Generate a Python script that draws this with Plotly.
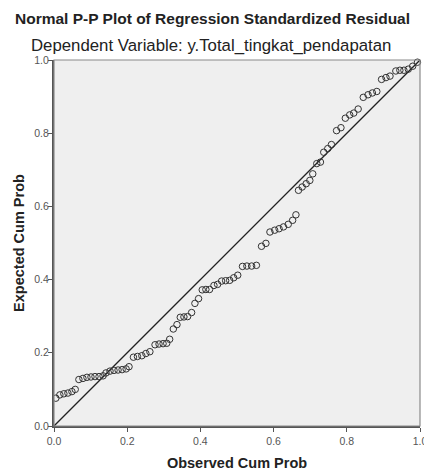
import plotly.graph_objects as go

observed = [0.005, 0.016, 0.027, 0.038, 0.049, 0.058,
            0.068, 0.079, 0.090, 0.101, 0.112, 0.123, 0.134,
            0.142, 0.153, 0.164, 0.175, 0.186, 0.197, 0.205,
            0.217, 0.228, 0.240, 0.251, 0.262,
            0.276, 0.287, 0.298, 0.308, 0.316,
            0.326, 0.336, 0.345, 0.355, 0.365, 0.376, 0.385, 0.395,
            0.405, 0.415, 0.425, 0.437, 0.447, 0.458, 0.469, 0.480, 0.491, 0.502,
            0.515, 0.527, 0.540, 0.553, 0.567, 0.579,
            0.590, 0.603, 0.615, 0.627, 0.640, 0.652, 0.661,
            0.668, 0.678, 0.689, 0.699, 0.707, 0.718, 0.728, 0.737, 0.748, 0.758,
            0.772, 0.784, 0.796, 0.808, 0.819, 0.831, 0.845, 0.858, 0.870, 0.882,
            0.895, 0.907, 0.918, 0.934, 0.945, 0.956, 0.968, 0.980, 0.993]
expected = [0.076, 0.085, 0.088, 0.090, 0.094, 0.100,
            0.127, 0.130, 0.133, 0.134, 0.135, 0.135, 0.137,
            0.145, 0.150, 0.152, 0.153, 0.154, 0.156, 0.162,
            0.188, 0.190, 0.192, 0.198, 0.203,
            0.222, 0.224, 0.225, 0.226, 0.237,
            0.265, 0.277, 0.297, 0.298, 0.299, 0.310, 0.335, 0.348,
            0.372, 0.373, 0.373, 0.384, 0.387, 0.396, 0.397, 0.398, 0.405, 0.412,
            0.436, 0.437, 0.437, 0.439, 0.491, 0.499,
            0.530, 0.535, 0.539, 0.544, 0.551, 0.562, 0.577,
            0.644, 0.653, 0.662, 0.671, 0.689, 0.717, 0.721, 0.748, 0.758, 0.769,
            0.807, 0.815, 0.841, 0.850, 0.855, 0.866, 0.898, 0.905, 0.910, 0.914,
            0.947, 0.952, 0.956, 0.970, 0.972, 0.972, 0.975, 0.983, 0.994]
ref_line = [0.0, 1.0]
ticks = [0.0, 0.2, 0.4, 0.6, 0.8, 1.0]
tick_labels = ["0.0", "0.2", "0.4", "0.6", "0.8", "1.0"]

FONT = "Liberation Sans, Arial, sans-serif"

fig = go.Figure()
fig.add_trace(go.Scatter(x=ref_line, y=ref_line, mode="lines",
                         line=dict(color="#222222", width=1.3),
                         hoverinfo="skip", showlegend=False))
fig.add_trace(go.Scatter(x=observed, y=expected, mode="markers",
                         marker=dict(symbol="circle-open", size=6.5,
                                     color="#333333", line=dict(width=1)),
                         cliponaxis=False, showlegend=False))

axis_common = dict(range=[0, 1], tickvals=ticks, ticktext=tick_labels,
                   ticks="outside", ticklen=4, tickcolor="#555555", tickwidth=1,
                   showgrid=False, zeroline=False, showline=True,
                   linecolor="#555555", linewidth=2, automargin=False,
                   ticklabeloverflow="allow",
                   tickfont=dict(family=FONT, size=10.5, color="#555555"))

fig.update_xaxes(**axis_common,
                 title=dict(text="<b>Observed Cum Prob</b>", standoff=12,
                            font=dict(family=FONT, size=14.5, color="#222222")))
fig.update_yaxes(**axis_common, ticklabelstandoff=-3,
                 title=dict(text="<b>Expected Cum Prob</b>", standoff=6,
                            font=dict(family=FONT, size=14.5, color="#222222")))

fig.add_shape(type="rect", xref="x domain", yref="y domain", x0=0, y0=0, x1=1, y1=1,
              line=dict(color="#8a8a8a", width=1.2), layer="above")

fig.add_annotation(text="<b>Normal P-P Plot of Regression Standardized Residual</b>",
                   xref="paper", yref="paper", x=0.432, y=1, xanchor="center", yanchor="middle",
                   yshift=42, showarrow=False,
                   font=dict(family=FONT, size=15.5, color="#222222"))
fig.add_annotation(text="Dependent Variable: y.Total_tingkat_pendapatan",
                   xref="paper", yref="paper", x=0.428, y=1, xanchor="center", yanchor="middle",
                   yshift=15, showarrow=False,
                   font=dict(family=FONT, size=16.8, color="#222222"))

fig.update_layout(width=424, height=472,
                  margin=dict(l=54, r=4, t=60, b=46),
                  paper_bgcolor="white", plot_bgcolor="#efefef",
                  showlegend=False)

fig.write_html("out.html", config={"displayModeBar": False},
               post_script="document.body.style.margin='0';document.body.style.overflow='hidden';")
